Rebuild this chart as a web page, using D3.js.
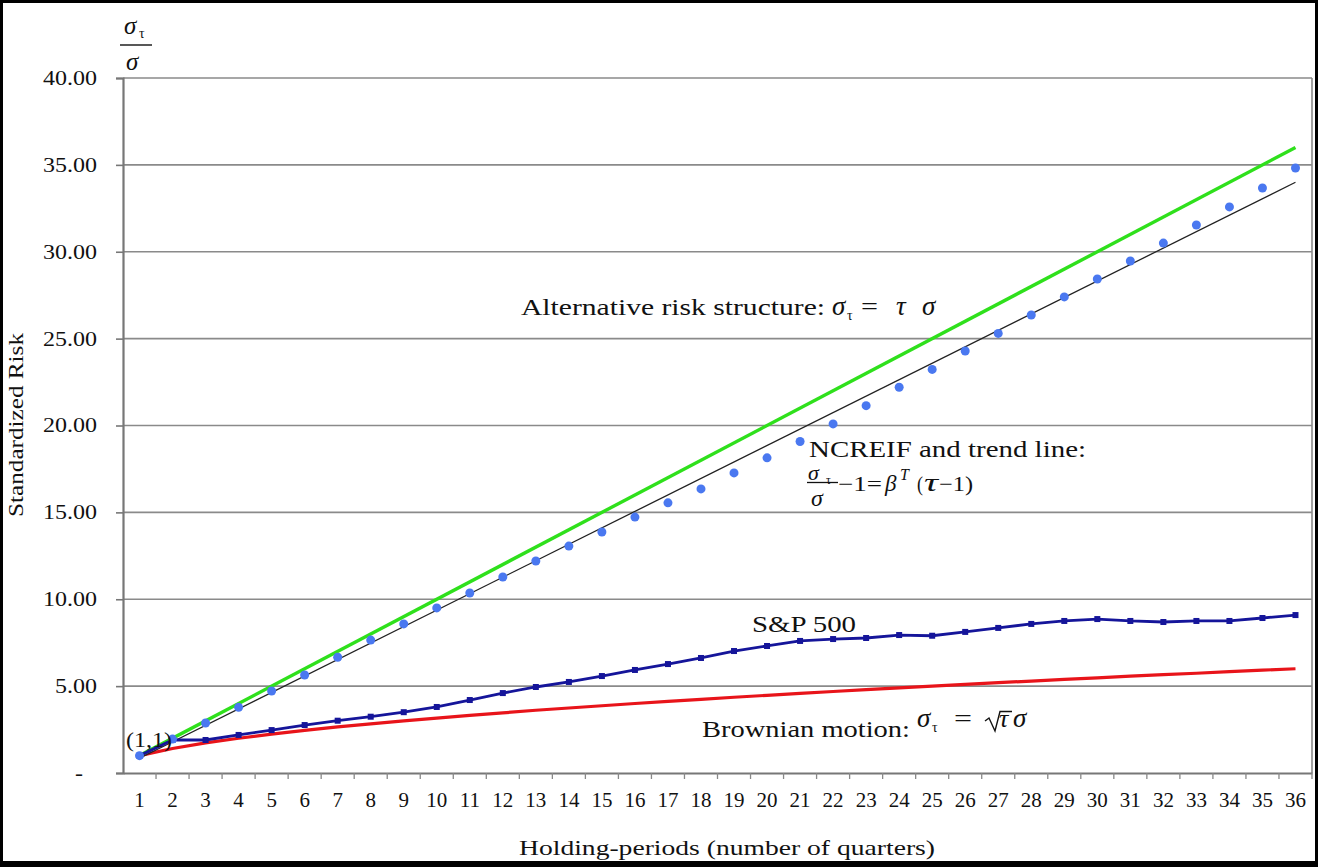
<!DOCTYPE html>
<html>
<head>
<meta charset="utf-8">
<script src="https://cdn.jsdelivr.net/npm/d3@7"></script>
<style>
  body { margin: 0; background: #000; }
  svg { display: block; }
  text { font-family: "Liberation Serif", "DejaVu Serif", serif; fill: #111; }
</style>
</head>
<body>
<script>
// holding periods (quarters)
var periods = [1, 2, 3, 4, 5, 6, 7, 8, 9, 10, 11, 12, 13, 14, 15, 16, 17, 18,
               19, 20, 21, 22, 23, 24, 25, 26, 27, 28, 29, 30, 31, 32, 33, 34, 35, 36];

// NCREIF standardized risk (dots)
var ncreif = [1.00, 1.95, 2.88, 3.78, 4.72, 5.64, 6.66, 7.65, 8.58, 9.50, 10.36, 11.28,
              12.20, 13.06, 13.87, 14.73, 15.55, 16.35, 17.27, 18.14, 19.08, 20.09, 21.14, 22.20,
              23.23, 24.29, 25.30, 26.36, 27.40, 28.43, 29.47, 30.50, 31.54, 32.58, 33.67, 34.82];

// S&P 500 standardized risk
var sp500 = [1.00, 1.90, 1.90, 2.19, 2.47, 2.76, 3.01, 3.24, 3.50, 3.80, 4.20, 4.60,
             4.95, 5.24, 5.58, 5.93, 6.27, 6.62, 7.02, 7.31, 7.60, 7.71, 7.77, 7.94,
             7.90, 8.12, 8.35, 8.58, 8.75, 8.86, 8.75, 8.69, 8.75, 8.75, 8.92, 9.09];

// Brownian motion
var brownian = [1.00, 1.41, 1.73, 2.00, 2.24, 2.45, 2.65, 2.83, 3.00, 3.16, 3.32, 3.46,
                3.61, 3.74, 3.87, 4.00, 4.12, 4.24, 4.36, 4.47, 4.58, 4.69, 4.80, 4.90,
                5.00, 5.10, 5.20, 5.29, 5.39, 5.48, 5.57, 5.66, 5.74, 5.83, 5.92, 6.00];

// straight lines: [period, value] end points
var alternative = [[1, 1.0], [36, 36.0]];
var trend = [[1, 0.85], [36, 34.0]];

var yTicks = [0, 5, 10, 15, 20, 25, 30, 35, 40];

var width = 1318, height = 867;
var plotLeft = 123, plotRight = 1312, plotTop = 78, plotBottom = 773;

var svg = d3.select("body").append("svg")
    .attr("width", width)
    .attr("height", height);

// frame
svg.append("rect").attr("width", width).attr("height", height).attr("fill", "#000");
svg.append("rect").attr("x", 3).attr("y", 3).attr("width", 1312).attr("height", 858).attr("fill", "#fff");

var x = d3.scaleBand().domain(periods).range([plotLeft, plotRight]);
var y = d3.scaleLinear().domain([0, 40]).range([plotBottom, plotTop]);
var cx = function (p) { return x(p) + x.bandwidth() / 2; };

function fit(sel, w) {
    sel.attr("textLength", w).attr("lengthAdjust", "spacingAndGlyphs");
}
function widen(sel, k) {
    sel.each(function () {
        var w = this.getComputedTextLength();
        d3.select(this).attr("textLength", w * k).attr("lengthAdjust", "spacingAndGlyphs");
    });
}

// grid lines
svg.append("g").selectAll("line")
    .data(yTicks.filter(function (d) { return d > 0; }))
    .enter().append("line")
    .attr("x1", plotLeft).attr("x2", plotRight)
    .attr("y1", function (d) { return y(d); })
    .attr("y2", function (d) { return y(d); })
    .style("stroke", "#8a8a8a")
    .style("stroke-width", 1.6);

// right border
svg.append("line")
    .attr("x1", plotRight).attr("x2", plotRight).attr("y1", plotTop).attr("y2", plotBottom)
    .style("stroke", "#8a8a8a").style("stroke-width", 1.6);

// y axis
var yAxis = svg.append("g")
    .attr("transform", "translate(" + plotLeft + ",0)")
    .call(d3.axisLeft(y).tickValues(yTicks).tickSize(7).tickPadding(19)
        .tickFormat(function (d) { return d === 0 ? "-" : d3.format(".2f")(d); }));
yAxis.select(".domain").style("stroke", "#777").style("stroke-width", 2.2);
yAxis.selectAll(".tick line").style("stroke", "#777").style("stroke-width", 1.6);
yAxis.selectAll("text")
    .style("font-family", "Liberation Serif")
    .style("font-size", "20px")
    .attr("fill", "#111")
    .attr("dx", function (d) { return d === 0 ? -14 : 0; })
    .call(widen, 1.2);

// x axis
var xAxis = svg.append("g")
    .attr("transform", "translate(0," + plotBottom + ")")
    .call(d3.axisBottom(x).tickSize(0).tickPadding(19));
xAxis.select(".domain").style("stroke", "#777").style("stroke-width", 2.2);
xAxis.selectAll("text")
    .style("font-family", "Liberation Serif")
    .style("font-size", "21px")
    .attr("fill", "#111");

// x tick marks between bands
svg.append("g").selectAll("line")
    .data(periods)
    .enter().append("line")
    .attr("x1", function (d) { return x(d) + x.step(); })
    .attr("x2", function (d) { return x(d) + x.step(); })
    .attr("y1", plotBottom)
    .attr("y2", plotBottom + 6)
    .style("stroke", "#888")
    .style("stroke-width", 1.3);

// axis titles
svg.append("text")
    .attr("transform", "translate(23,425) rotate(-90)")
    .attr("text-anchor", "middle")
    .style("font-size", "21px")
    .text("Standardized Risk")
    .call(fit, 184);

svg.append("text")
    .attr("x", 519).attr("y", 855)
    .style("font-size", "21px")
    .text("Holding-periods (number of quarters)")
    .call(fit, 416);

// sigma_tau / sigma label on the y axis
svg.append("text").attr("x", 124).attr("y", 34)
    .style("font-size", "25px").style("font-style", "italic").text("σ");
svg.append("text").attr("x", 139).attr("y", 38)
    .style("font-size", "14px").text("τ");
svg.append("line").attr("x1", 120).attr("x2", 152).attr("y1", 45).attr("y2", 45)
    .style("stroke", "#111").style("stroke-width", 1.4);
svg.append("text").attr("x", 126).attr("y", 70)
    .style("font-size", "25px").style("font-style", "italic").text("σ");

// lines
var line = d3.line()
    .x(function (d) { return cx(d[0]); })
    .y(function (d) { return y(d[1]); });

svg.append("path")
    .attr("d", line(periods.map(function (p, i) { return [p, brownian[i]]; })))
    .style("fill", "none").style("stroke", "#e8141a").style("stroke-width", 3.2);

svg.append("path")
    .attr("d", line(alternative))
    .style("fill", "none").style("stroke", "#2fe01c").style("stroke-width", 3.4);

svg.append("path")
    .attr("d", line(trend))
    .style("fill", "none").style("stroke", "#222").style("stroke-width", 1.3);

svg.append("path")
    .attr("d", line(periods.map(function (p, i) { return [p, sp500[i]]; })))
    .style("fill", "none").style("stroke", "#15159a").style("stroke-width", 2.8);

svg.append("g").selectAll("rect")
    .data(periods)
    .enter().append("rect")
    .attr("x", function (d) { return cx(d) - 3; })
    .attr("y", function (d, i) { return y(sp500[i]) - 3; })
    .attr("width", 6).attr("height", 6)
    .style("fill", "#15159a");

svg.append("g").selectAll("circle")
    .data(periods)
    .enter().append("circle")
    .attr("cx", function (d) { return cx(d); })
    .attr("cy", function (d, i) { return y(ncreif[i]); })
    .attr("r", 4.5)
    .style("fill", "#4a78f0");

// annotations
function put(px, py, size, str, italic) {
    return svg.append("text").attr("x", px).attr("y", py)
        .style("font-size", size + "px")
        .style("font-style", italic ? "italic" : "normal")
        .text(str);
}

// alternative risk structure
put(521, 315, 24, "Alternative risk structure:").call(fit, 304);
put(832, 315, 27, "σ", true);
put(847, 320, 14, "τ");
put(861, 315, 26, "=").call(fit, 17);
put(896, 315, 27, "τ", true);
put(922, 315, 27, "σ", true);

// NCREIF and trend line
put(809, 457, 24, "NCREIF and trend line:").call(fit, 277);
put(808, 480, 22, "σ", true);
put(826, 484, 12, "τ");
svg.append("line").attr("x1", 807).attr("x2", 838).attr("y1", 482.5).attr("y2", 482.5)
    .style("stroke", "#111").style("stroke-width", 1.3);
put(811, 506, 24, "σ", true);
put(838, 491, 21, "−1=").call(fit, 44);
put(885, 491, 23, "β", true);
put(900, 480, 16, "T", true);
put(917, 491, 21, "(").call(fit, 6);
put(924, 491, 25, "τ", true).call(fit, 14);
put(939, 491, 21, "−1)").call(fit, 34);

// S&P 500
put(752, 632, 24, "S&P 500").call(fit, 104);

// Brownian motion
put(702, 737, 23, "Brownian motion:").call(fit, 208);
put(917, 727, 27, "σ", true);
put(932, 732, 14, "τ");
put(954, 727, 26, "=").call(fit, 18);
svg.append("path")
    .attr("d", "M985,721 L989,718 L995,731 L1000,711.5 L1012,711.5")
    .style("fill", "none").style("stroke", "#111").style("stroke-width", 1.4);
put(999, 727, 26, "τ", true);
put(1013, 727, 27, "σ", true);

// start point label
put(126, 747, 21, "(1,1)").call(fit, 46);
</script>
</body>
</html>
